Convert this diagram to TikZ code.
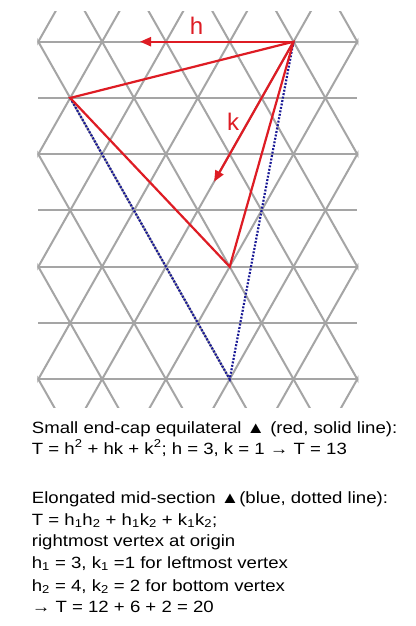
\documentclass[tikz,border=0pt]{standalone}
\usepackage{fontspec}
\setmainfont[FakeStretch=1.14]{Liberation Sans}
\newfontfamily\labfont{Liberation Sans}
\usetikzlibrary{arrows.meta}
\definecolor{latgrey}{RGB}{165,165,165}
\definecolor{capred}{RGB}{222,28,36}
\definecolor{midblue}{RGB}{25,25,150}
\tikzset{
  latline/.style={draw=latgrey, line width=2pt},
  redline/.style={draw=capred, line width=2.2pt},
  blueline/.style={draw=midblue, line width=2.2pt, dash pattern=on 1.9pt off 1.6pt},
  redarrow/.style={redline, -{Triangle[length=11pt,width=9pt]}},
  biglab/.style={text=capred, font=\labfont\fontsize{24}{28}\selectfont, inner sep=0pt, anchor=base},
  txtline/.style={font=\fontsize{16.3}{20}\selectfont, inner sep=0pt, anchor=base west}
}
\begin{document}
\begin{tikzpicture}[x=1pt,y=-1pt]
\useasboundingbox (0,0) rectangle (415,626);
\fill[white] (0,0) rectangle (415,626);
% lattice
\begin{scope}
\clip (37.3,12) rectangle (358.3,407.5);
\foreach \r in {0,...,6} \draw[latline] (38.3,41.7+56.25*\r) -- (357.3,41.7+56.25*\r);
\foreach \k in {-8,...,12} {
  \draw[latline] (38.3+63.8*\k-31.9,41.7-56.25) -- ++(31.9*9,56.25*9);
  \draw[latline] (38.3+63.8*\k+31.9,41.7-56.25) -- ++(-31.9*9,56.25*9);
}
\end{scope}
% vertices
\coordinate (A) at (293.5,41.7);
\coordinate (B) at (70.2,97.95);
\coordinate (C) at (229.7,266.7);
\coordinate (D) at (229.7,379.2);
\coordinate (hE) at (140,41.7);
\coordinate (kE) at (214.1,181.7);
% blue elongated triangle
\draw[blueline] (B) -- (D) -- (A);
% red triangle
\draw[redline] (A) -- (B) -- (C) -- cycle;
% arrows
\draw[redarrow] (A) -- (hE);
\draw[redarrow] (A) -- (kE);
\node[biglab] (hlab) at (196.5,35) {h};
\node[biglab] (klab) at (233,130) {k};
% text
\node[txtline] (t1) at (31.7,433.3) {Small end-cap equilateral ▲ (red, solid line):};
\node[txtline] (t2) at (31.7,454) {T = h\textsuperscript{2} + hk + k\textsuperscript{2}; h = 3, k = 1 → T = 13};
\node[txtline] (t3) at (31.7,503.3) {Elongated mid-section ▲(blue, dotted line):};
\node[txtline] (t4) at (31.7,525) {T = h\textsubscript{1}h\textsubscript{2} + h\textsubscript{1}k\textsubscript{2} + k\textsubscript{1}k\textsubscript{2};};
\node[txtline] (t5) at (31.7,546.7) {rightmost vertex at origin};
\node[txtline] (t6) at (31.7,568.3) {h\textsubscript{1} = 3, k\textsubscript{1} =1 for leftmost vertex};
\node[txtline] (t7) at (31.7,591) {h\textsubscript{2} = 4, k\textsubscript{2} = 2 for bottom vertex};
\node[txtline] (t8) at (31.7,612.3) {→ T = 12 + 6 + 2 = 20};
\end{tikzpicture}
\end{document}
